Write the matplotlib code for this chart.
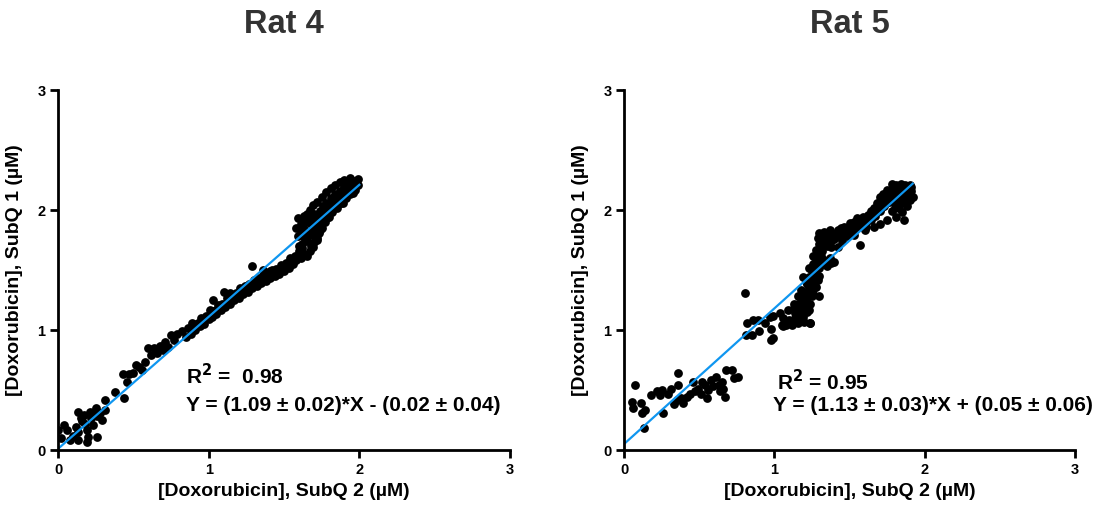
import matplotlib
matplotlib.use("Agg")
import matplotlib.pyplot as plt

plt.rcParams['font.family'] = ['Liberation Sans', 'DejaVu Sans']
plt.rcParams['font.weight'] = 'bold'

# ---- Rat 4 ----
rat4_x = [0.00, 0.06, 0.04, 0.02, 0.08, 0.13, 0.15, 0.12, 0.13, 0.17, 0.18, 0.19, 0.20, 0.13,
          0.19, 0.21, 0.22, 0.25, 0.26, 0.23, 0.26, 0.28, 0.29, 0.31, 0.31, 0.10, 0.16, 0.24,
          0.38, 0.44, 0.43, 0.46, 0.50, 0.52, 0.56, 0.58, 0.60, 0.62, 0.64, 0.68, 0.71, 0.73,
          0.75, 0.79, 0.82, 0.85, 0.47, 0.54, 0.66, 0.70, 0.77,
          0.86, 0.89, 0.92, 0.95, 0.98, 1.01, 1.03, 1.06, 1.09, 1.12, 1.15, 1.18, 1.21, 1.24,
          1.27, 1.30, 1.33, 1.36, 1.39, 1.42, 1.45, 1.48, 1.51, 1.54,
          0.88, 0.91, 0.94, 0.97, 1.00, 1.02, 1.05, 1.08, 1.11, 1.14, 1.17, 1.20, 1.23, 1.26,
          1.29, 1.32, 1.35, 1.38, 1.41, 1.44, 1.47, 1.50, 1.53, 1.56,
          0.90, 0.93, 0.96, 0.99, 1.02, 1.05, 1.08, 1.11, 1.14, 1.17, 1.20, 1.23, 1.26, 1.29,
          1.32, 1.35, 1.38, 1.41, 1.44, 1.47, 1.50, 1.53, 1.55,
          1.03, 1.10, 1.29, 1.14, 1.36, 1.41,
          1.58, 1.61, 1.63, 1.65, 1.67, 1.68, 1.70, 1.72, 1.73, 1.75, 1.77, 1.79, 1.82, 1.85,
          1.88, 1.91, 1.94, 1.97, 1.99,
          1.60, 1.62, 1.64, 1.66, 1.68, 1.70, 1.72, 1.74, 1.76, 1.78, 1.81, 1.84, 1.87, 1.90,
          1.93, 1.96, 1.99,
          1.58, 1.59, 1.61, 1.63, 1.65, 1.67, 1.69, 1.72, 1.75, 1.78, 1.81, 1.84, 1.87, 1.90,
          1.94, 1.61, 1.64, 1.69, 1.72, 1.74, 1.80, 1.89, 1.96,
          1.57, 1.59, 1.60, 1.62, 1.63, 1.65, 1.66, 1.67, 1.69, 1.70, 1.71, 1.73, 1.74, 1.76,
          1.77, 1.79, 1.80, 1.82, 1.83, 1.85, 1.86, 1.88, 1.89, 1.91, 1.92, 1.95, 1.97, 1.98,
          1.62, 1.66, 1.70]
rat4_y = [0.17, 0.17, 0.21, 0.10, 0.08, 0.32, 0.27, 0.19, 0.15, 0.29, 0.22, 0.17, 0.11, 0.08,
          0.07, 0.32, 0.27, 0.35, 0.28, 0.21, 0.11, 0.31, 0.25, 0.33, 0.42, 0.12, 0.24, 0.30,
          0.48, 0.43, 0.63, 0.57, 0.64, 0.71, 0.67, 0.73, 0.85, 0.79, 0.85, 0.87, 0.90, 0.86,
          0.96, 0.97, 0.99, 0.94, 0.63, 0.69, 0.81, 0.83, 0.92,
          1.02, 1.06, 1.05, 1.10, 1.12, 1.17, 1.16, 1.21, 1.22, 1.27, 1.28, 1.31, 1.35, 1.37,
          1.38, 1.42, 1.43, 1.46, 1.47, 1.50, 1.51, 1.54, 1.56, 1.60,
          0.97, 1.00, 1.03, 1.05, 1.09, 1.11, 1.13, 1.17, 1.19, 1.22, 1.25, 1.27, 1.30, 1.32,
          1.35, 1.37, 1.39, 1.41, 1.43, 1.45, 1.47, 1.49, 1.52, 1.55,
          1.03, 1.06, 1.08, 1.11, 1.14, 1.17, 1.19, 1.22, 1.25, 1.28, 1.30, 1.33, 1.35, 1.37,
          1.40, 1.42, 1.44, 1.46, 1.48, 1.49, 1.52, 1.54, 1.57,
          1.25, 1.32, 1.53, 1.31, 1.50, 1.49,
          1.58, 1.60, 1.63, 1.62, 1.66, 1.70, 1.73, 1.77, 1.81, 1.85, 1.90, 1.94, 1.98, 2.02,
          2.06, 2.10, 2.13, 2.17, 2.21,
          1.66, 1.72, 1.77, 1.82, 1.88, 1.92, 1.96, 1.99, 2.03, 2.06, 2.10, 2.13, 2.16, 2.19,
          2.22, 2.24, 2.26,
          1.85, 1.93, 1.88, 1.95, 1.97, 2.00, 2.04, 2.07, 2.11, 2.15, 2.18, 2.21, 2.23, 2.25,
          2.27, 1.81, 1.76, 1.69, 1.75, 1.83, 1.94, 2.06, 2.14,
          1.62, 1.78, 1.70, 1.68, 1.84, 1.74, 1.90, 1.79, 1.83, 1.97, 1.87, 1.91, 1.95, 1.96,
          2.00, 2.00, 2.05, 2.04, 2.08, 2.09, 2.12, 2.11, 2.15, 2.14, 2.17, 2.20, 2.21, 2.24,
          1.90, 1.93, 1.80]

# ---- Rat 5 ----
rat5_x = [0.07, 0.05, 0.06, 0.11, 0.12, 0.14, 0.13, 0.18, 0.22, 0.24, 0.25, 0.26, 0.29, 0.31,
          0.33, 0.35, 0.36, 0.36, 0.38, 0.39, 0.42, 0.44, 0.46, 0.47, 0.49, 0.51, 0.52, 0.54,
          0.55, 0.56, 0.58, 0.59, 0.61, 0.63, 0.64, 0.65, 0.66, 0.67, 0.68, 0.72, 0.73, 0.76,
          0.805, 0.82, 0.81, 0.85, 0.86, 0.89, 0.90, 0.94, 0.97, 0.98, 0.98, 0.99, 1.04, 1.05,
          1.06, 1.09, 1.10, 1.12, 1.13, 1.14, 1.15, 1.16, 1.17, 1.18, 1.19, 1.20, 1.22, 1.23,
          1.24, 1.24, 1.25, 1.27, 1.28, 1.29, 1.30, 1.19, 0.99, 1.06, 1.08, 1.24,
          1.12, 1.14, 1.15, 1.16, 1.17, 1.18, 1.19, 1.20, 1.21, 1.22, 1.22, 1.23, 1.24, 1.25,
          1.25, 1.26, 1.27, 1.27, 1.28, 1.29, 1.30, 1.31, 1.29, 1.32, 1.20, 1.18, 1.26, 1.28,
          1.24, 1.16, 1.13, 1.21, 1.23, 1.30,
          1.15, 1.17, 1.19, 1.21, 1.23, 1.25, 1.27, 1.29, 1.31, 1.26, 1.22, 1.18, 1.14, 1.20,
          1.28, 1.30, 1.25,
          1.30, 1.33, 1.35, 1.37, 1.40, 1.42, 1.44, 1.46, 1.48, 1.50, 1.53, 1.55, 1.57, 1.59,
          1.62, 1.64, 1.66, 1.68, 1.70, 1.72, 1.75, 1.78, 1.81, 1.84, 1.87, 1.90,
          1.31, 1.34, 1.37, 1.40, 1.43, 1.46, 1.49, 1.52, 1.55, 1.58, 1.61, 1.64, 1.67, 1.70,
          1.73, 1.76, 1.79, 1.82, 1.85, 1.88, 1.91,
          1.32, 1.35, 1.38, 1.42, 1.45, 1.48, 1.53, 1.57, 1.60, 1.66, 1.70, 1.75, 1.81, 1.85,
          1.88, 1.90, 1.92, 1.83, 1.78, 1.86,
          1.35, 1.38, 1.40, 1.37, 1.33,
          1.32, 1.34, 1.36, 1.38, 1.39, 1.41, 1.43, 1.45, 1.47, 1.49, 1.51, 1.52, 1.54, 1.56,
          1.58, 1.60, 1.61, 1.63, 1.65, 1.67, 1.69, 1.71, 1.72, 1.74, 1.76, 1.77, 1.79, 1.80,
          1.82, 1.83, 1.85, 1.86, 1.88, 1.89, 1.91, 1.80, 1.84, 1.87, 1.90]
rat5_y = [0.54, 0.40, 0.35, 0.39, 0.31, 0.33, 0.18, 0.46, 0.49, 0.46, 0.50, 0.31, 0.47, 0.51,
          0.38, 0.42, 0.54, 0.64, 0.43, 0.39, 0.44, 0.47, 0.57, 0.49, 0.51, 0.47, 0.57, 0.54,
          0.43, 0.50, 0.58, 0.53, 0.61, 0.54, 0.49, 0.57, 0.51, 0.44, 0.67, 0.67, 0.60, 0.61,
          1.31, 1.06, 0.96, 0.96, 1.08, 1.08, 0.99, 1.06, 1.11, 1.01, 0.92, 1.12, 1.14, 1.04,
          1.10, 1.17, 1.08, 1.04, 1.22, 1.14, 1.08, 1.28, 1.19, 1.33, 1.11, 1.25, 1.39, 1.17,
          1.06, 1.31, 1.44, 1.36, 1.50, 1.42, 1.28, 1.44, 0.93, 1.03, 1.04, 1.06,
          1.05, 1.10, 1.16, 1.22, 1.12, 1.27, 1.20, 1.32, 1.26, 1.38, 1.15, 1.44, 1.34, 1.49,
          1.40, 1.55, 1.47, 1.61, 1.67, 1.56, 1.72, 1.62, 1.77, 1.55, 1.07, 1.10, 1.30, 1.36,
          1.22, 1.06, 1.18, 1.42, 1.52, 1.45,
          1.12, 1.17, 1.23, 1.30, 1.36, 1.43, 1.52, 1.60, 1.68, 1.62, 1.20, 1.14, 1.07, 1.17,
          1.44, 1.52, 1.28,
          1.81, 1.82, 1.79, 1.83, 1.80, 1.83, 1.85, 1.86, 1.84, 1.89, 1.90, 1.93, 1.92, 1.94,
          1.96, 1.99, 2.02, 2.06, 2.11, 2.13, 2.17, 2.22, 2.21, 2.22, 2.21, 2.21,
          1.75, 1.76, 1.77, 1.76, 1.78, 1.80, 1.82, 1.84, 1.86, 1.88, 1.90, 1.92, 1.95, 1.99,
          2.03, 2.07, 2.11, 2.14, 2.17, 2.17, 2.16,
          1.66, 1.70, 1.69, 1.69, 1.74, 1.78, 1.79, 1.71, 1.83, 1.86, 1.88, 1.92, 1.94, 1.98,
          2.03, 2.08, 2.11, 2.02, 1.99, 1.92,
          1.53, 1.56, 1.57, 1.60, 1.58,
          1.78, 1.73, 1.81, 1.74, 1.80, 1.78, 1.81, 1.82, 1.81, 1.85, 1.86, 1.82, 1.89, 1.90,
          1.91, 1.92, 1.86, 1.94, 1.97, 1.98, 2.03, 2.02, 2.08, 2.06, 2.12, 2.10, 2.16, 2.05,
          2.18, 2.09, 2.20, 2.12, 2.20, 2.14, 2.19, 2.02, 2.06, 2.08, 2.13]

# fitted lines as drawn (x range, slope, intercept)
fit4_x = [0.0, 2.0]
fit4_slope, fit4_icpt = 1.10, 0.01
fit5_x = [0.0, 1.92]
fit5_slope, fit5_icpt = 1.13, 0.05

titles = ['Rat 4', 'Rat 5']
r2_text = ['R$^\\mathbf{2}$ =  0.98', 'R$^\\mathbf{2}$ = 0.95']
eq_text = ['Y = (1.09 ± 0.02)*X - (0.02 ± 0.04)', 'Y = (1.13 ± 0.03)*X + (0.05 ± 0.06)']
r2_pos = [(0.85, 0.62), (1.02, 0.57)]
eq_pos = [(0.85, 0.37), (0.99, 0.37)]

fig = plt.figure(figsize=(11.01, 5.14), dpi=100)
ax1 = fig.add_axes([0.0527, 0.1245, 0.4105, 0.7004])
ax2 = fig.add_axes([0.5668, 0.1245, 0.4096, 0.7004])

data = [(rat4_x, rat4_y, fit4_x, fit4_slope, fit4_icpt),
        (rat5_x, rat5_y, fit5_x, fit5_slope, fit5_icpt)]

for i, ax in enumerate([ax1, ax2]):
    xs, ys, fx, m, b = data[i]
    ax.scatter(xs, ys, s=40, color='black', linewidths=0, zorder=2)
    ax.plot(fx, [m * v + b for v in fx], color='#0f96f0', lw=1.6, zorder=3)

    ax.set_xlim(0, 3)
    ax.set_ylim(0, 3)
    ax.set_xticks([0, 1, 2, 3])
    ax.set_yticks([0, 1, 2, 3])
    for s in ['top', 'right']:
        ax.spines[s].set_visible(False)
    for s in ['left', 'bottom']:
        ax.spines[s].set_linewidth(2.0)
    ax.spines['left'].set_zorder(5)
    ax.tick_params(width=2.0, length=6, labelsize=10.5, pad=3)
    for lab in ax.get_xticklabels() + ax.get_yticklabels():
        lab.set_fontweight('bold')

    ax.set_xlabel('[Doxorubicin], SubQ 2 (µM)', fontsize=14, fontweight='bold', labelpad=5)
    ax.set_ylabel('[Doxorubicin], SubQ 1 (µM)', fontsize=14, fontweight='bold', labelpad=10)
    ax.set_title(titles[i], fontsize=23.5, fontweight='bold', pad=41, color='#333333')

    ax.text(r2_pos[i][0], r2_pos[i][1], r2_text[i], fontsize=15, fontweight='bold', va='center')
    ax.text(eq_pos[i][0], eq_pos[i][1], eq_text[i], fontsize=15, fontweight='bold', va='center')

fig.savefig('out.png', dpi=100)
